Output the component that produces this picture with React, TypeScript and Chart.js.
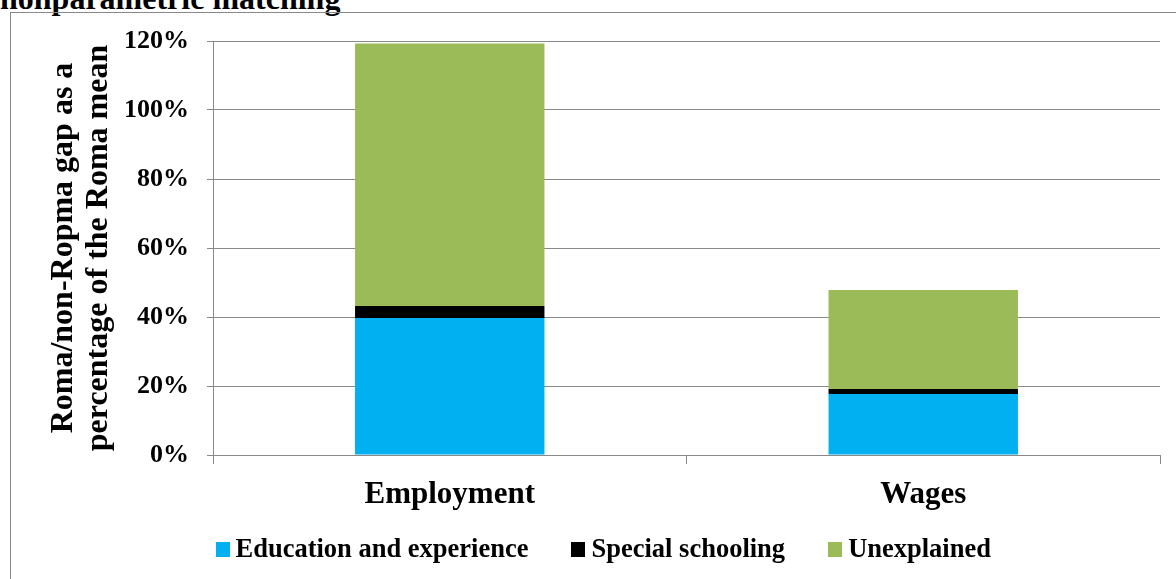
import React, { useEffect, useRef } from 'react';
import { Chart, registerables } from 'chart.js';

Chart.register(...registerables);

const categories = ['Employment', 'Wages'];
const educationExperience = [39.7, 17.7];
const specialSchooling = [3.5, 1.4];
const unexplained = [76.1, 28.7];
const yTickValues = [0, 20, 40, 60, 80, 100, 120];
const seriesLabels = ['Education and experience', 'Special schooling', 'Unexplained'];
const seriesColors = ['#00B0F0', '#000000', '#9BBB59'];
const titleText = 'nonparametric matching';
const yTitleLines = ['Roma/non-Ropma gap as a', 'percentage of the Roma mean'];

const FONT = "'Liberation Serif', 'Times New Roman', serif";
const GRID = '#898989';

export default function App() {
  const ref = useRef<HTMLCanvasElement | null>(null);

  useEffect(() => {
    if (!ref.current) return;
    const seriesData = [educationExperience, specialSchooling, unexplained];
    const chart = new Chart(ref.current, {
      type: 'bar',
      data: {
        labels: categories,
        datasets: seriesLabels.map((label, i) => ({
          label,
          data: seriesData[i],
          backgroundColor: seriesColors[i],
          borderWidth: 0,
          barPercentage: 0.4,
          categoryPercentage: 1.0,
        })),
      },
      options: {
        animation: false,
        responsive: false,
        devicePixelRatio: 1,
        layout: { padding: { top: 41, right: 16, bottom: 64, left: 0 } },
        plugins: {
          legend: { display: false },
          tooltip: { enabled: false },
          title: { display: false },
        },
        scales: {
          x: {
            stacked: true,
            offset: true,
            grid: {
              display: true,
              drawOnChartArea: false,
              drawTicks: true,
              tickLength: 9,
              color: GRID,
              offset: true,
            },
            border: { display: true, color: GRID },
            ticks: {
              color: '#000',
              padding: 12,
              font: { family: FONT, size: 31, weight: 'bold' },
            },
            afterFit: (s: any) => {
              s.height = 60;
            },
          },
          y: {
            stacked: true,
            min: 0,
            max: 120,
            afterBuildTicks: (s: any) => {
              s.ticks = yTickValues.map((v) => ({ value: v }));
            },
            grid: { color: GRID, tickLength: 6, drawTicks: true },
            border: { display: true, color: GRID },
            ticks: {
              color: '#000',
              padding: 18,
              font: { family: FONT, size: 26, weight: 'bold' },
              callback: (v: any) => v + '%',
            },
            title: {
              display: true,
              text: yTitleLines,
              color: '#000',
              font: { family: FONT, size: 32, weight: 'bold', lineHeight: 1.1 },
              padding: { top: 46, bottom: 0 },
            },
            afterFit: (s: any) => {
              s.width = 213;
            },
          },
        },
      },
    });
    return () => chart.destroy();
  }, []);

  return (
    <div
      style={{
        position: 'fixed',
        left: 0,
        top: 0,
        width: 1176,
        height: 579,
        overflow: 'hidden',
        background: '#fff',
      }}
    >
      <div
        style={{
          position: 'absolute',
          left: 0,
          top: -18,
          fontFamily: FONT,
          fontWeight: 'bold',
          fontSize: 32,
          lineHeight: '32px',
          whiteSpace: 'nowrap',
          color: '#000',
        }}
      >
        {titleText}
      </div>
      <div
        style={{
          position: 'absolute',
          left: 10,
          top: 12,
          width: 1200,
          height: 700,
          border: `1px solid ${GRID}`,
          boxSizing: 'border-box',
        }}
      />
      <canvas
        ref={ref}
        width={1176}
        height={579}
        style={{ position: 'absolute', left: 0, top: 0, width: 1176, height: 579 }}
      />
      <div
        style={{
          position: 'absolute',
          left: 215.5,
          top: 535,
          whiteSpace: 'nowrap',
          fontFamily: FONT,
          fontWeight: 'bold',
          fontSize: 26.5,
          lineHeight: '26.5px',
          color: '#000',
        }}
      >
        {seriesLabels.map((label, i) => (
          <span key={label} style={{ marginRight: i < seriesLabels.length - 1 ? 43 : 0 }}>
            <span
              style={{
                display: 'inline-block',
                width: 14,
                height: 15,
                background: seriesColors[i],
                marginRight: 6,
                verticalAlign: 'baseline',
              }}
            />
            {label}
          </span>
        ))}
      </div>
    </div>
  );
}
